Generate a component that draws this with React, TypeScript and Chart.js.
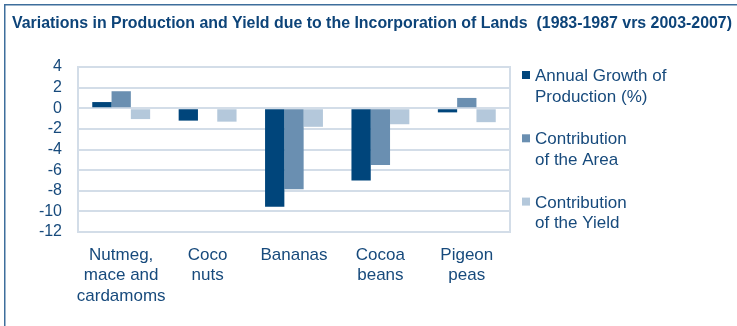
import React, { useEffect, useRef } from "react";
import { Chart, registerables } from "chart.js";

Chart.register(...registerables);

const TITLE = "Variations in Production and Yield due to the Incorporation of Lands  (1983-1987 vrs 2003-2007)";
const categories: string[][] = [
  ["Nutmeg,", "mace and", "cardamoms"],
  ["Coco", "nuts"],
  ["Bananas"],
  ["Cocoa", "beans"],
  ["Pigeon", "peas"],
];
const seriesNames: string[][] = [
  ["Annual Growth of", "Production (%)"],
  ["Contribution", "of the Area"],
  ["Contribution", "of the Yield"],
];
const annualGrowth = [0.6, -1.2, -9.55, -7.0, -0.4];
const areaContribution = [1.65, 0, -7.85, -5.5, 1.0];
const yieldContribution = [-1.05, -1.3, -1.8, -1.55, -1.35];
const yTicksMin = -12;
const yTicksMax = 4;
const yStep = 2;

const COLORS = ["#00457b", "#6a8fb1", "#b4c8db"];
const TEXT = "#174a7c";
const GRID = "#d3dde8";
const FONT = "'Liberation Sans', Arial, sans-serif";

const framePlugin = {
  id: "frameAndLegend",
  beforeDatasetsDraw(chart: any) {
    const { ctx, chartArea } = chart;
    ctx.save();
    ctx.strokeStyle = GRID;
    ctx.lineWidth = 2;
    ctx.strokeRect(chartArea.left, chartArea.top, chartArea.right - chartArea.left, chartArea.bottom - chartArea.top);
    ctx.restore();
  },
  afterDraw(chart: any) {
    const { ctx } = chart;
    ctx.save();
    // outer frame
    ctx.fillStyle = "#3e6e9c";
    ctx.fillRect(4, 4, 733, 1.5);
    ctx.fillRect(4, 4, 1.5, 322);
    // title
    ctx.fillStyle = "#0d4479";
    ctx.font = `bold 16px 'Liberation Sans Narrow', ${FONT}`;
    ctx.textBaseline = "alphabetic";
    ctx.textAlign = "left";
    ctx.fillText(TITLE, 12, 28, 720);
    // legend
    ctx.font = `17px ${FONT}`;
    chart.data.datasets.forEach((ds: any, i: number) => {
      const base = 81 + i * 63.3;
      ctx.fillStyle = ds.backgroundColor;
      ctx.fillRect(522, base - 10, 8, 8);
      ctx.fillStyle = TEXT;
      const lines: string[] = ds.legendLines;
      lines.forEach((ln, j) => ctx.fillText(ln, 535, base + j * 20.5));
    });
    ctx.restore();
  },
};

export default function App() {
  const ref = useRef<HTMLCanvasElement>(null);
  useEffect(() => {
    if (!ref.current) return;
    const chart = new Chart(ref.current, {
      type: "bar",
      data: {
        labels: categories,
        datasets: [annualGrowth, areaContribution, yieldContribution].map((d, i) => ({
          label: seriesNames[i].join(" "),
          legendLines: seriesNames[i],
          data: d,
          backgroundColor: COLORS[i],
          borderWidth: 0,
          categoryPercentage: 0.67,
          barPercentage: 1,
        })) as any,
      },
      options: {
        animation: false,
        responsive: false,
        devicePixelRatio: 1,
        layout: { padding: { left: 0, right: 227, top: 67, bottom: 24 } },
        plugins: {
          legend: { display: false },
          title: { display: false },
          tooltip: { enabled: false },
        },
        scales: {
          x: {
            grid: { display: false },
            border: { display: false },
            ticks: {
              color: TEXT,
              font: { family: FONT, size: 17, lineHeight: 1.2 },
              padding: 5,
              maxRotation: 0,
              autoSkip: false,
            },
            afterFit: (s: any) => { s.height = 70; },
          },
          y: {
            min: yTicksMin,
            max: yTicksMax,
            grid: { color: GRID, lineWidth: 2, drawTicks: false },
            border: { display: false },
            ticks: {
              stepSize: yStep,
              autoSkip: false,
              color: TEXT,
              font: { family: FONT, size: 16 },
              padding: 16,
            },
            afterFit: (s: any) => { s.width = 78; },
          },
        },
      },
      plugins: [framePlugin],
    });
    return () => chart.destroy();
  }, []);
  return (
    <div style={{ position: "absolute", left: 0, top: 0, width: 737, height: 326, background: "#fff" }}>
      <canvas ref={ref} width={737} height={326} style={{ width: 737, height: 326, display: "block" }} />
    </div>
  );
}
